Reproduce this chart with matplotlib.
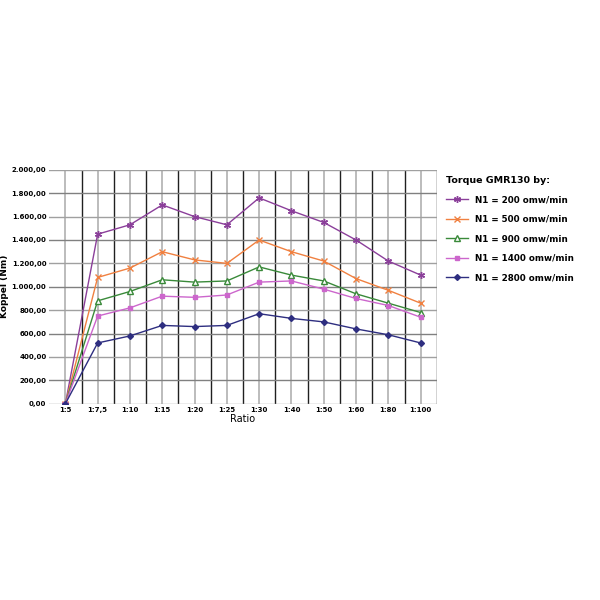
import numpy as np
import matplotlib.pyplot as plt

ratios = ['1:5', '1:7,5', '1:10', '1:15', '1:20', '1:25', '1:30', '1:40', '1:50', '1:60', '1:80', '1:100']
n200 = [0, 1450, 1530, 1700, 1600, 1530, 1760, 1650, 1550, 1400, 1220, 1100]
n500 = [0, 1080, 1160, 1300, 1230, 1200, 1400, 1300, 1220, 1070, 970, 860]
n900 = [0, 880, 960, 1060, 1040, 1050, 1170, 1100, 1050, 940, 860, 780]
n1400 = [0, 750, 820, 920, 910, 930, 1040, 1050, 980, 900, 840, 740]
n2800 = [0, 520, 580, 670, 660, 670, 770, 730, 700, 640, 590, 520]

series = [
    ('N1 = 200 omw/min', n200, '#8b3f9a', (6, 2, 0), 'none', 5),
    ('N1 = 500 omw/min', n500, '#f08040', 'x', None, 4),
    ('N1 = 900 omw/min', n900, '#3a8a3a', '^', '#ffffff', 4),
    ('N1 = 1400 omw/min', n1400, '#cc66cc', 's', None, 3.5),
    ('N1 = 2800 omw/min', n2800, '#2e2e80', 'D', None, 3),
]

fig = plt.figure(figsize=(6, 6), dpi=100)
ax = fig.add_axes([0.082, 0.327, 0.646, 0.39])
x = np.arange(len(ratios))

# grid: gray at categories, black halfway between
for i in x:
    ax.axvline(i, color='#b0b0b0', lw=1.2, zorder=0)
    ax.axvline(i + 0.5, color='#202020', lw=1, zorder=0)
for y in range(0, 2001, 200):
    ax.axhline(y, color='#808080' if y % 400 else '#a0a0a0', lw=1, zorder=0)

for label, vals, col, mk, mfc, ms in series:
    kw = dict(markerfacecolor=mfc) if mfc else {}
    ax.plot(x, vals, color=col, lw=1, marker=mk, markersize=ms,
            markeredgecolor=col, label=label, **kw)

ax.set_xlim(-0.5, 11.5)
ax.set_ylim(0, 2000)
ax.set_xticks(x)
ax.set_xticklabels(ratios, fontsize=5, fontweight='bold')
yt = list(range(0, 2001, 200))
ax.set_yticks(yt)
ax.set_yticklabels([f'{v:,}'.replace(',', '.') + ',00' for v in yt], fontsize=5, fontweight='bold')
ax.tick_params(length=0, pad=2)
for s in ax.spines.values():
    s.set_visible(False)
ax.set_xlabel('Ratio', fontsize=7, labelpad=1)
ax.set_ylabel('Koppel (Nm)', fontsize=6.5, fontweight='bold', labelpad=2)

leg = fig.legend(loc='upper left', bbox_to_anchor=(0.73, 0.72), frameon=False,
                 title='Torque GMR130 by:', labelspacing=1.2,
                 handlelength=2.5, prop={'weight': 'bold', 'size': 6.3})
leg.get_title().set_fontsize(6.8)
leg.get_title().set_fontweight('bold')
leg._legend_box.align = 'left'

fig.savefig('out.png', dpi=100)
